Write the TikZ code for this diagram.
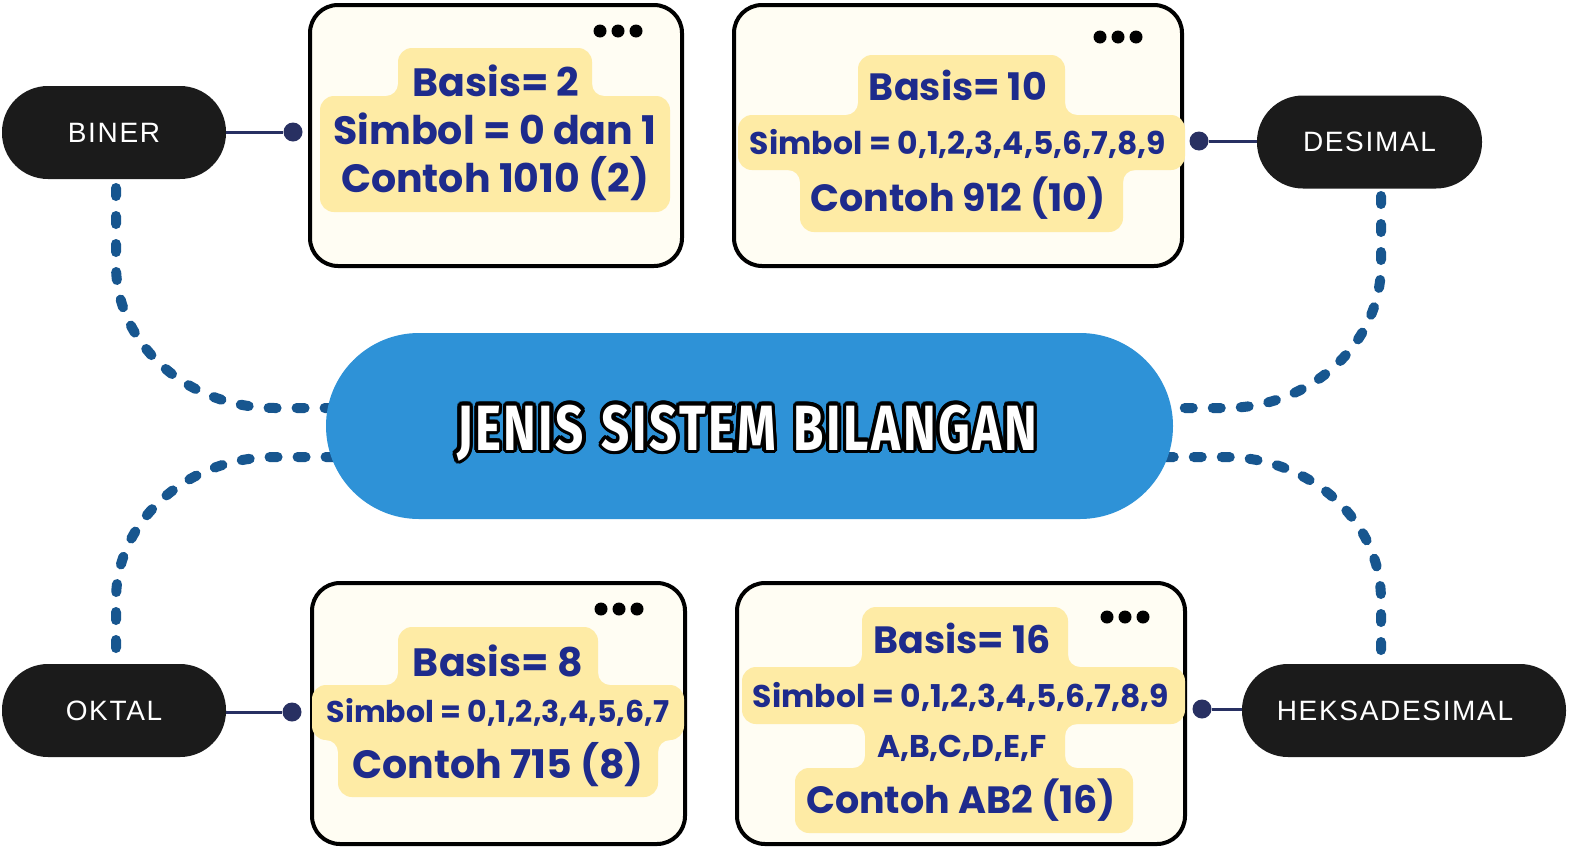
\documentclass[tikz,border=0pt]{standalone}
\usepackage{fontspec}
\usetikzlibrary{calc,backgrounds}

\newfontfamily\cardfont{Poppins}
\newfontfamily\tagfont[LetterSpace=6]{Liberation Sans}
\newfontfamily\titlefont[FakeStretch=0.77, LetterSpace=4, WordSpace=1.25]{Fira Sans}

\definecolor{pillblue}{HTML}{2E92D7}
\definecolor{dashblue}{HTML}{17568F}
\definecolor{ink}{HTML}{1E2B8C}
\definecolor{hlyellow}{HTML}{FEEBA5}
\definecolor{cream}{HTML}{FFFDF3}
\definecolor{navy}{HTML}{283062}
\definecolor{tagblack}{HTML}{1B1B1B}

% text with a black halo drawn under a white face
\newcommand\haloat[3]{\makebox[0pt][l]{\hspace*{#1}\raisebox{#2}{#3}}}
\newcommand\outlined[1]{%
 \haloat{3.5pt}{0pt}{#1}\haloat{3.2pt}{1.3pt}{#1}\haloat{2.5pt}{2.5pt}{#1}\haloat{1.3pt}{3.2pt}{#1}%
 \haloat{0pt}{3.5pt}{#1}\haloat{-1.3pt}{3.2pt}{#1}\haloat{-2.5pt}{2.5pt}{#1}\haloat{-3.2pt}{1.3pt}{#1}%
 \haloat{-3.5pt}{0pt}{#1}\haloat{-3.2pt}{-1.3pt}{#1}\haloat{-2.5pt}{-2.5pt}{#1}\haloat{-1.3pt}{-3.2pt}{#1}%
 \haloat{0pt}{-3.5pt}{#1}\haloat{1.3pt}{-3.2pt}{#1}\haloat{2.5pt}{-2.5pt}{#1}\haloat{3.2pt}{-1.3pt}{#1}%
 \textcolor{white}{#1}}

% concave joint between two stacked highlight bands:
% corner (#1,#2), opening towards x-direction #3 and y-direction #4
\newcommand\fillet[4]{%
 \fill[hlyellow] (#1,#2) -- ({#1+12*(#3)},#2)
   .. controls ({#1+5.4*(#3)},#2) and (#1,{#2+5.4*(#4)}) .. (#1,{#2+12*(#4)}) -- cycle;}

\tikzset{
  tag/.style={fill=tagblack, rounded corners=46pt, minimum height=93pt, inner sep=0pt,
    text=white, font=\tagfont\fontsize{28}{30}\selectfont},
  card/.style={draw=black, line width=4pt, fill=cream, rounded corners=28pt,
    minimum height=261pt, inner sep=0pt},
  hlbox/.style={fill=hlyellow, rounded corners=14pt, inner sep=0pt},
  txt/.style={text=ink, inner sep=0pt, anchor=base},
  bigA/.style={txt, font=\cardfont\bfseries\fontsize{39.5}{42}\selectfont},
  bigB/.style={txt, font=\cardfont\bfseries\fontsize{38}{40}\selectfont},
  midA/.style={txt, font=\cardfont\bfseries\fontsize{30}{32}\selectfont},
  midB/.style={txt, font=\cardfont\bfseries\fontsize{31.4}{33}\selectfont},
  dot/.style={circle, fill=navy, minimum size=19pt, inner sep=0pt},
  menudot/.style={circle, fill=black, minimum size=13pt, inner sep=0pt},
  stem/.style={draw=navy, line width=3pt},
  dashline/.style={draw=dashblue, line width=10pt, line cap=round, dash pattern=on 8pt off 20pt},
}

\begin{document}
\begin{tikzpicture}[x=1pt, y=-1pt]
\useasboundingbox (0,0) rectangle (1574,852);

% central title
\node[fill=pillblue, rounded corners=93pt, minimum width=847pt, minimum height=186pt]
  (pill) at (749.5,426) {};
\node[anchor=base, inner sep=0pt, font=\titlefont\bfseries\fontsize{64}{70}\selectfont]
  (title) at (747,450) {\outlined{JENIS SISTEM BILANGAN}};

% number-system tags
\node[tag, minimum width=224pt] (biner) at (114,132.5) {BINER};
\node[tag, minimum width=225pt] (desimal) at (1369.5,142) {DESIMAL};
\node[tag, minimum width=224pt] (oktal) at (114,710.5) {OKTAL};
\node[tag, minimum width=324pt] (heksa) at (1404,710.5) {\hspace*{-18pt}HEKSADESIMAL};

% dashed links from the tags into the title
\coordinate (bA) at (116,188);  \coordinate (bB) at (116,265);  \coordinate (bC) at (275,408);
\coordinate (dA) at (1381,196); \coordinate (dB) at (1381,265); \coordinate (dC) at (1225,408);
\coordinate (oA) at (116,648);  \coordinate (oB) at (116,600);  \coordinate (oC) at (275,457);
\coordinate (hA) at (1381,650); \coordinate (hB) at (1381,600); \coordinate (hC) at (1225,457);
\begin{scope}[on background layer]
\fill[white] (0,0) rectangle (1574,852);
\draw[dashline] (bA) -- (bB) .. controls (116,344) and (187,408) .. (bC) -- (pill.center |- bC);
\draw[dashline] (dA) -- (dB) .. controls (1381,344) and (1310,408) .. (dC) -- (pill.center |- dC);
\draw[dashline] (oA) -- (oB) .. controls (116,521) and (187,457) .. (oC) -- (pill.center |- oC);
\draw[dashline] (hA) -- (hB) .. controls (1381,521) and (1310,457) .. (hC) -- (pill.center |- hC);
\end{scope}

% cards
\node[card, minimum width=372pt] (c1) at (496,135.5) {};
\node[card, minimum width=448pt] (c2) at (958,135.5) {};
\node[card, minimum width=373pt] (c3) at (498.5,713.5) {};
\node[card, minimum width=448pt] (c4) at (961,713.5) {};

% window dots
\foreach \i/\x in {1/600,2/618,3/636} \node[menudot] (m1\i) at (\x,31) {};
\foreach \i/\x in {1/1100,2/1118,3/1136} \node[menudot] (m2\i) at (\x,37) {};
\foreach \i/\x in {1/601,2/619,3/637} \node[menudot] (m3\i) at (\x,609) {};
\foreach \i/\x in {1/1107,2/1125,3/1143} \node[menudot] (m4\i) at (\x,617) {};

% tag-to-card stems
\node[dot] (d1) at (293,132) {};
\node[dot] (d2) at (1199,141) {};
\node[dot] (d3) at (292,712) {};
\node[dot] (d4) at (1202,709) {};
\draw[stem] (biner.east |- d1) -- (d1);
\draw[stem] (desimal.west |- d2) -- (d2);
\draw[stem] (oktal.east |- d3) -- (d3);
\draw[stem] (heksa.west |- d4) -- (d4);

% card 1: binary
\node[hlbox, minimum width=194pt, minimum height=64pt] (h1b) at (495,80) {};
\node[hlbox, minimum width=350pt, minimum height=116pt] (h1s) at (495,154) {};
\fillet{398}{96}{-1}{-1} \fillet{592}{96}{1}{-1}
\node[bigA] (t1b) at (496,96) {Basis= 2};
\node[bigA] (t1s) at (495,144) {Simbol = 0 dan 1};
\node[bigA] (t1c) at (495,192) {Contoh 1010 (2)};

% card 2: decimal
\node[hlbox, minimum width=207pt, minimum height=76pt] (h2b) at (961.5,93) {};
\node[hlbox, minimum width=447pt, minimum height=55pt] (h2s) at (961.5,142.5) {};
\node[hlbox, minimum width=323pt, minimum height=78pt] (h2c) at (961.5,193) {};
\fillet{858}{115}{-1}{-1} \fillet{1065}{115}{1}{-1}
\fillet{800}{170}{-1}{1}  \fillet{1123}{170}{1}{1}
\node[bigB] (t2b) at (958,100) {Basis= 10};
\node[midB] (t2s) at (958,154) {Simbol = 0,1,2,3,4,5,6,7,8,9};
\node[bigB] (t2c) at (958,211) {Contoh 912 (10)};

% card 3: octal
\node[hlbox, minimum width=200pt, minimum height=74pt] (h3b) at (498,664) {};
\node[hlbox, minimum width=372pt, minimum height=55pt] (h3s) at (498,712.5) {};
\node[hlbox, minimum width=320pt, minimum height=73pt] (h3c) at (498,760.5) {};
\fillet{398}{685}{-1}{-1} \fillet{598}{685}{1}{-1}
\fillet{338}{740}{-1}{1}  \fillet{658}{740}{1}{1}
\node[bigA] (t3b) at (498,676) {Basis= 8};
\node[midA] (t3s) at (498,722) {Simbol = 0,1,2,3,4,5,6,7};
\node[bigA] (t3c) at (498,778) {Contoh 715 (8)};

% card 4: hexadecimal
\node[hlbox, minimum width=206pt, minimum height=76pt] (h4b) at (965,645) {};
\node[hlbox, minimum width=443pt, minimum height=57pt] (h4s) at (963.5,695.5) {};
\node[hlbox, minimum width=200pt, minimum height=76pt] (h4a) at (965,746) {};
\node[hlbox, minimum width=338pt, minimum height=65pt] (h4c) at (964,800.5) {};
\fillet{862}{667}{-1}{-1} \fillet{1068}{667}{1}{-1}
\fillet{865}{724}{-1}{1}  \fillet{1065}{724}{1}{1}
\fillet{865}{768}{-1}{-1} \fillet{1065}{768}{1}{-1}
\node[bigB] (t4b) at (962,653) {Basis= 16};
\node[midB] (t4s) at (961,707) {Simbol = 0,1,2,3,4,5,6,7,8,9};
\node[midB] (t4a) at (962,757) {A,B,C,D,E,F};
\node[bigB] (t4c) at (961,813) {Contoh AB2 (16)};
\end{tikzpicture}
\end{document}
